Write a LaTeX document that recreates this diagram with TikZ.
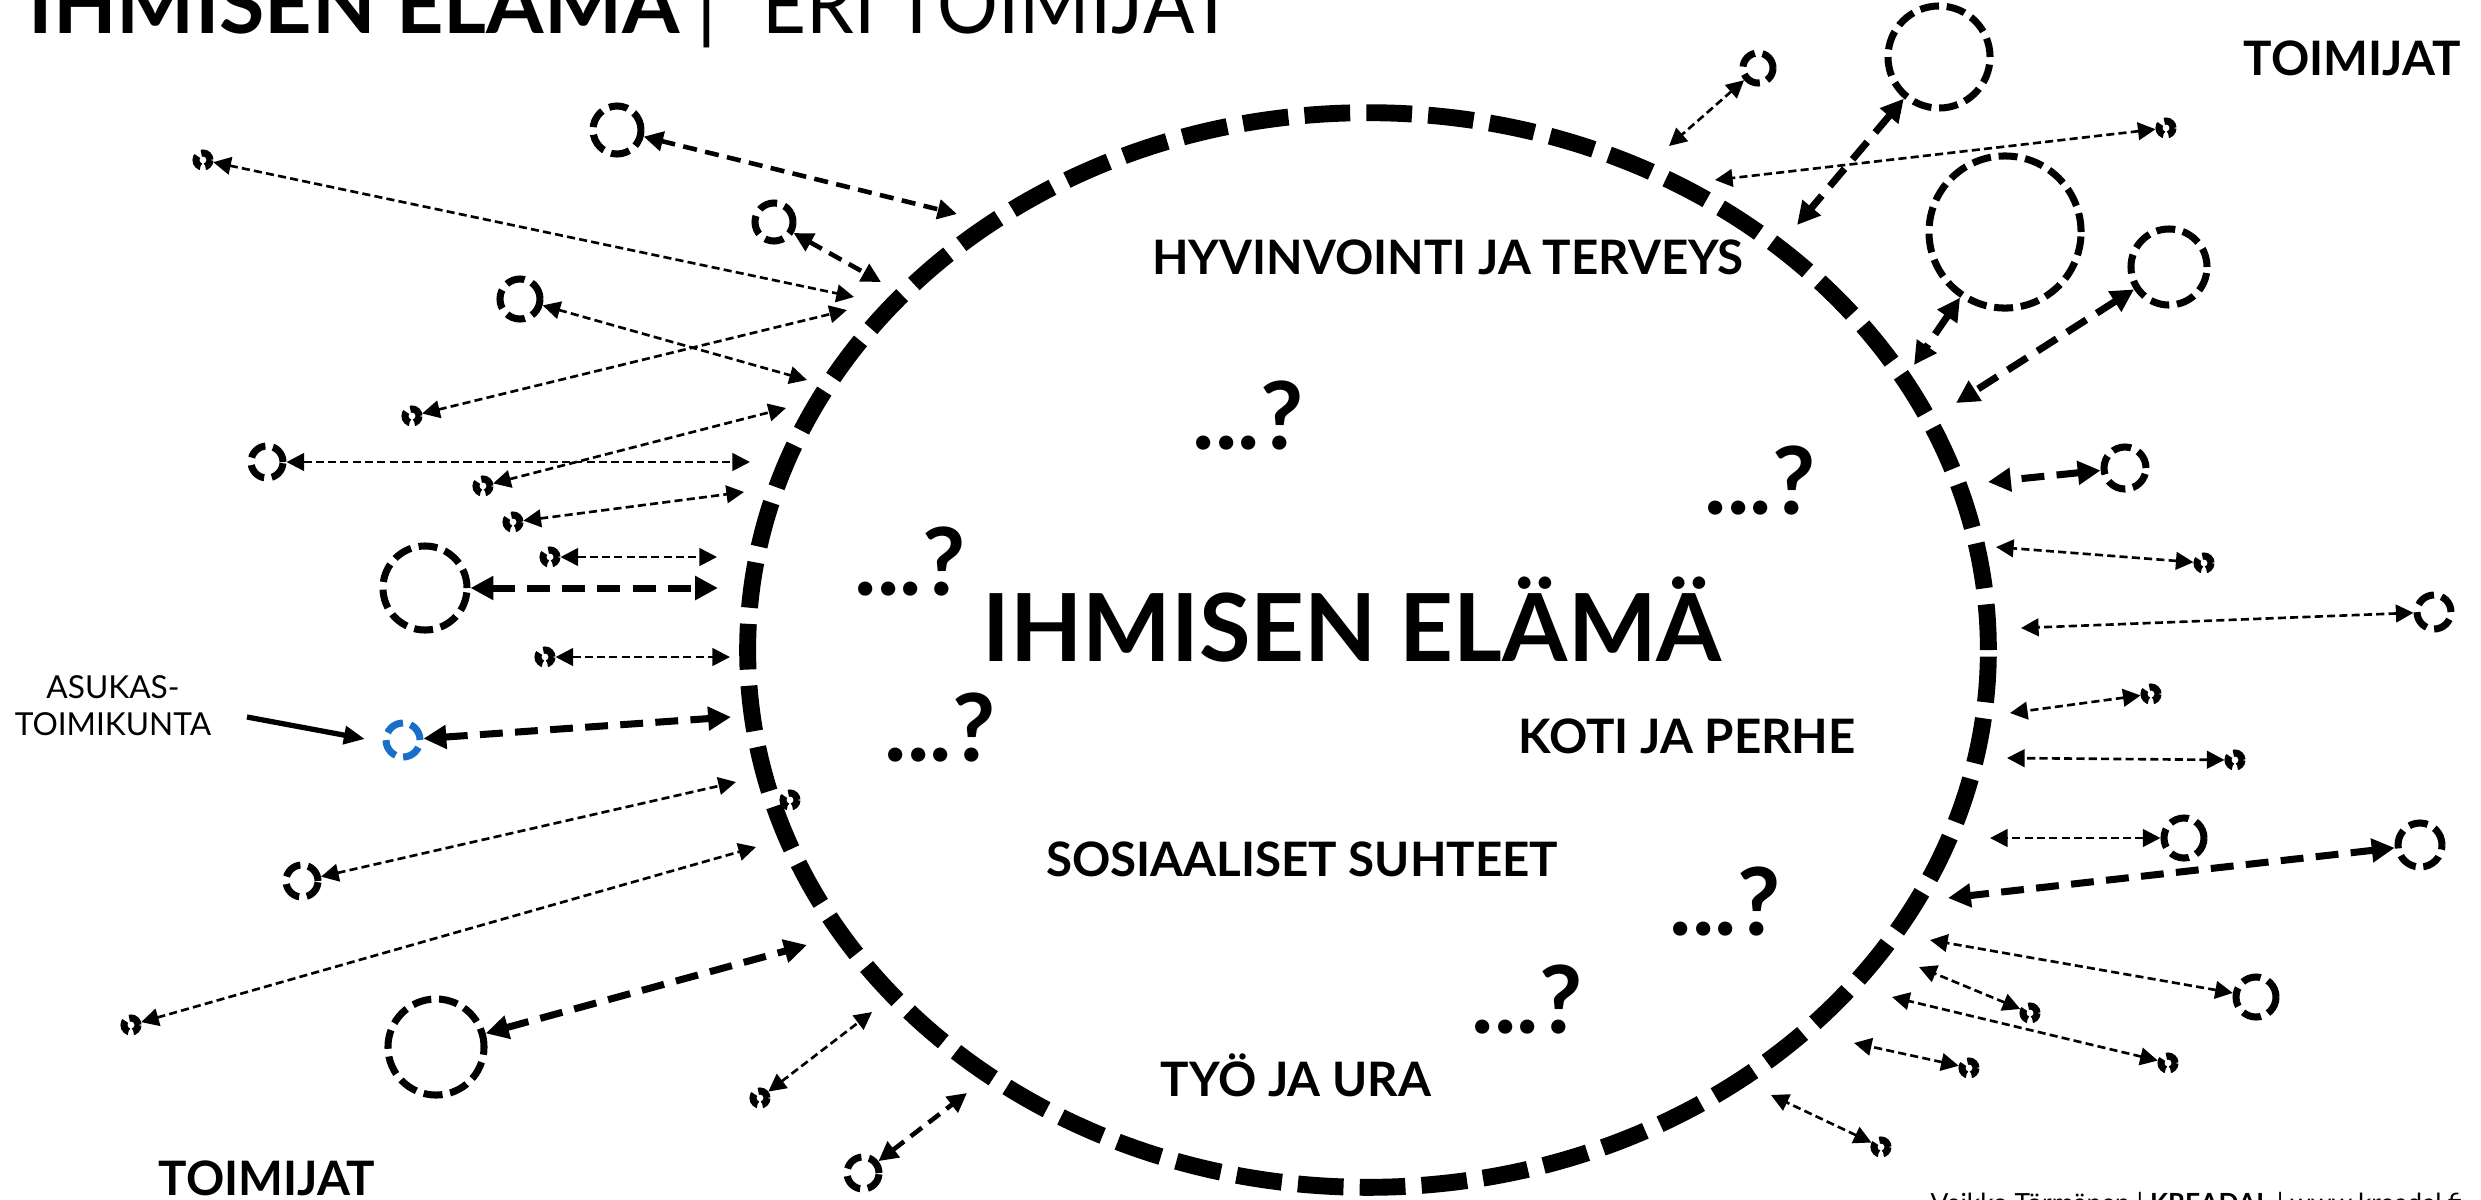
\documentclass[tikz,border=0pt]{standalone}
\usepackage{fontspec}
\setmainfont{Lato}
\usetikzlibrary{arrows.meta}
\definecolor{asublue}{RGB}{24,110,200}
\begin{document}
\begin{tikzpicture}[x=0.01cm,y=-0.01cm,
  ring/.style={line width=4.8pt, dash pattern=on 13pt off 4.6pt},
  actor/.style={circle, draw, line width=2pt, dash pattern=on 5.4pt off 2.2pt, inner sep=0pt},
  sq/.style={circle, draw, line width=2pt, dash pattern=on 3.6pt off 1.4pt, inner sep=0pt, minimum size=0.14cm},
  thinlink/.style={line width=0.75pt, dash pattern=on 2.3pt off 1.2pt,
     {Triangle[length=5pt,width=5pt]}-{Triangle[length=5pt,width=5pt]}},
  midlink/.style={line width=1.3pt, dash pattern=on 4pt off 2.4pt,
     {Triangle[length=5.5pt,width=5.5pt]}-{Triangle[length=5.5pt,width=5.5pt]}},
  thicklink/.style={line width=2pt, dash pattern=on 6.5pt off 3.5pt,
     {Triangle[length=6.5pt,width=6.5pt]}-{Triangle[length=6.5pt,width=6.5pt]}},
  solidlink/.style={line width=1.5pt, -{Triangle[length=6pt,width=5pt]}},
  bigtxt/.style={font=\fontsize{26.7}{30}\selectfont\bfseries, anchor=base, inner sep=0pt},
  midtxt/.style={font=\fontsize{13.5}{15}\selectfont\bfseries, anchor=base, inner sep=0pt},
  smalltxt/.style={font=\fontsize{9}{10.5}\selectfont, anchor=base, inner sep=0pt}
]
\useasboundingbox (0,0) rectangle (2481,1199);

% title and labels
\node[font=\fontsize{23.5}{26}\selectfont, anchor=base west, inner sep=0pt] (title) at (28,33)
  {\textbf{IHMISEN ELÄMÄ}\hspace{0.2em}|\hspace{0.55em}\scalebox{0.92}[1]{ERI TOIMIJAT}};
\node[midtxt] (toimR) at (2352,75) {TOIMIJAT};
\node[midtxt] (toimL) at (267,1195) {TOIMIJAT};
\node[font=\fontsize{7.5}{9}\selectfont, anchor=base west, inner sep=0pt] (credit) at (1930,1212)
  {Veikko Törmänen | \textbf{KREADAL} | www.kreadal.fi};

% main ring
\draw[ring] (1368,650) ellipse [x radius=6.2cm, y radius=5.37cm];

\node[bigtxt] (main) at (1352,661) {IHMISEN ELÄMÄ};
\node[midtxt] (hyv) at (1448,274) {HYVINVOINTI JA TERVEYS};
\node[midtxt] (koti) at (1687,753) {KOTI JA PERHE};
\node[midtxt] (sos) at (1302,876) {SOSIAALISET SUHTEET};
\node[midtxt] (tyo) at (1296,1096) {TYÖ JA URA};

\node[bigtxt] (q1) at (1248,449) {...?};
\node[bigtxt] (q2) at (1760,514) {...?};
\node[bigtxt] (q3) at (910,595) {...?};
\node[bigtxt] (q4) at (940,761) {...?};
\node[bigtxt] (q5) at (1725,935) {...?};
\node[bigtxt] (q6) at (1527,1033) {...?};

\node[smalltxt] (asuk1) at (113,698) {ASUKAS-};
\node[smalltxt] (asuk2) at (113,735) {TOIMIKUNTA};

% actors (dashed circles)
\node[actor, minimum size=0.48cm] (a1) at (617,130) {};
\node[actor, minimum size=0.38cm] (a2) at (774,222) {};
\node[actor, minimum size=0.40cm] (a3) at (520,299) {};
\node[actor, minimum size=0.32cm] (a4) at (267,462) {};
\node[actor, minimum size=0.84cm] (a5) at (425,588) {};
\node[actor, minimum size=0.34cm, draw=asublue] (a6) at (403,740) {};
\node[actor, minimum size=0.32cm] (a7) at (302,881) {};
\node[actor, minimum size=0.96cm] (a8) at (436,1047) {};
\node[actor, minimum size=0.32cm] (a9) at (863,1173) {};
\node[actor, minimum size=0.30cm] (a10) at (1758,68) {};
\node[actor, minimum size=1.02cm] (a11) at (1939,57) {};
\node[actor, minimum size=1.52cm] (a12) at (2005,232) {};
\node[actor, minimum size=0.76cm] (a13) at (2169,267) {};
\node[actor, minimum size=0.42cm] (a14) at (2125,468) {};
\node[actor, minimum size=0.34cm] (a15) at (2434,612) {};
\node[actor, minimum size=0.40cm] (a16) at (2184,838) {};
\node[actor, minimum size=0.44cm] (a17) at (2420,845) {};
\node[actor, minimum size=0.40cm] (a18) at (2256,997) {};

% small actors (squiggles)
\node[sq] (b1) at (203,160) {};
\node[sq] (b2) at (412,416) {};
\node[sq] (b3) at (483,486) {};
\node[sq] (b4) at (513,522) {};
\node[sq] (b5) at (550,557) {};
\node[sq] (b6) at (545,657) {};
\node[sq] (b7) at (131,1025) {};
\node[sq] (b8) at (760,1098) {};
\node[sq] (b9) at (790,800) {};
\node[sq] (b10) at (2166,128) {};
\node[sq] (b11) at (2204,563) {};
\node[sq] (b12) at (2151,694) {};
\node[sq] (b13) at (2235,760) {};
\node[sq] (b14) at (2030,1013) {};
\node[sq] (b15) at (2168,1063) {};
\node[sq] (b16) at (1969,1068) {};
\node[sq] (b17) at (1881,1147) {};

% ring-side ends
\coordinate (eA) at (957,214);
\coordinate (eB) at (854,297);
\coordinate (eC) at (881,282);
\coordinate (eD) at (807,380);
\coordinate (eE) at (847,310);
\coordinate (eF) at (750,462);
\coordinate (eG) at (786,408);
\coordinate (eH) at (744,492);
\coordinate (eI) at (717,557);
\coordinate (eJ) at (718,588);
\coordinate (eK) at (730,657);
\coordinate (eL) at (731,717);
\coordinate (eM) at (736,782);
\coordinate (eN) at (756,847);
\coordinate (eO) at (807,945);
\coordinate (eP) at (872,1012);
\coordinate (eQ) at (967,1093);
\coordinate (eS) at (1669,146);
\coordinate (eT) at (1797,225);
\coordinate (eU) at (1715,180);
\coordinate (eV) at (1914,365);
\coordinate (eW) at (1956,403);
\coordinate (eX) at (1988,482);
\coordinate (eY) at (1996,547);
\coordinate (eZ) at (2021,628);
\coordinate (eAA) at (2010,713);
\coordinate (eAB) at (2007,758);
\coordinate (eAC) at (1990,838);
\coordinate (eAD) at (1948,898);
\coordinate (eAE) at (1930,940);
\coordinate (eAF) at (1919,967);
\coordinate (eAG) at (1892,997);
\coordinate (eAH) at (1854,1043);
\coordinate (eAI) at (1771,1095);
\coordinate (asA) at (247,717);
\coordinate (asB) at (365,739);

% connectors left
\draw[midlink] (a1) -- (eA);
\draw[thinlink] (b1) -- (eB);
\draw[midlink] (a2) -- (eC);
\draw[thinlink] (a3) -- (eD);
\draw[thinlink] (b2) -- (eE);
\draw[thinlink] (a4) -- (eF);
\draw[thinlink] (b3) -- (eG);
\draw[thinlink] (b4) -- (eH);
\draw[thinlink] (b5) -- (eI);
\draw[thicklink] (a5) -- (eJ);
\draw[thinlink] (b6) -- (eK);
\draw[thicklink] (a6) -- (eL);
\draw[thinlink] (a7) -- (eM);
\draw[thinlink] (b7) -- (eN);
\draw[thicklink] (a8) -- (eO);
\draw[thinlink] (b8) -- (eP);
\draw[midlink] (a9) -- (eQ);
\draw[solidlink] (asA) -- (asB);

% connectors right
\draw[thinlink] (a10) -- (eS);
\draw[thicklink] (a11) -- (eT);
\draw[thinlink] (b10) -- (eU);
\draw[thicklink] (a12) -- (eV);
\draw[thicklink] (a13) -- (eW);
\draw[thicklink] (a14) -- (eX);
\draw[thinlink] (b11) -- (eY);
\draw[thinlink] (a15) -- (eZ);
\draw[thinlink] (b12) -- (eAA);
\draw[thinlink] (b13) -- (eAB);
\draw[thinlink] (a16) -- (eAC);
\draw[thicklink] (a17) -- (eAD);
\draw[thinlink] (a18) -- (eAE);
\draw[thinlink] (b14) -- (eAF);
\draw[thinlink] (b15) -- (eAG);
\draw[thinlink] (b16) -- (eAH);
\draw[thinlink] (b17) -- (eAI);
\end{tikzpicture}
\end{document}
